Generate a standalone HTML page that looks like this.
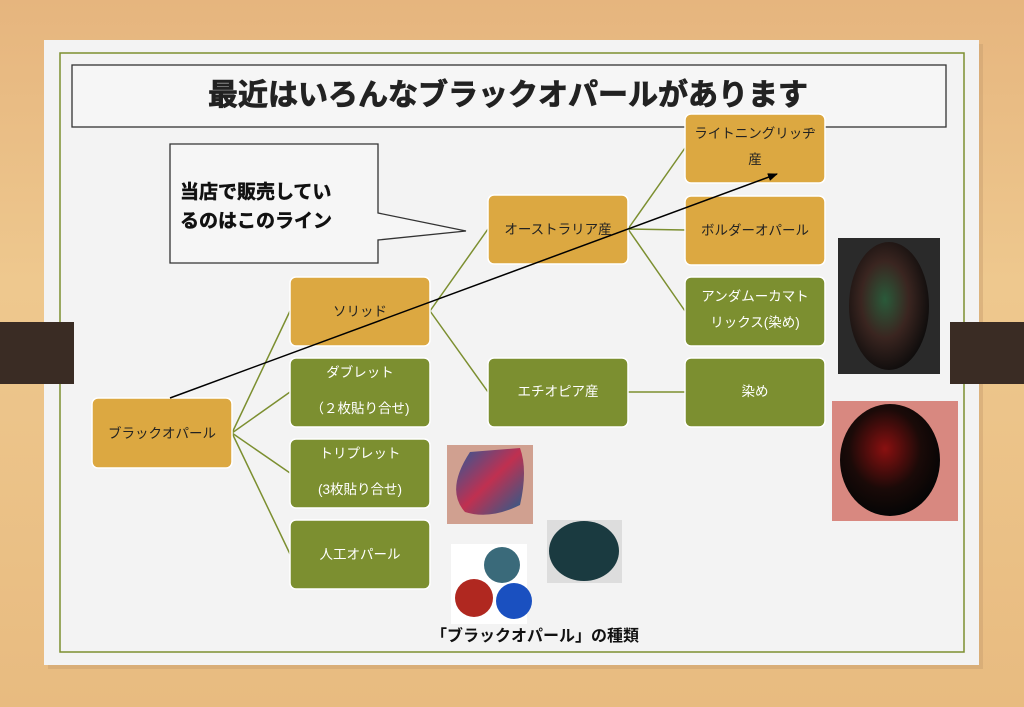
<!DOCTYPE html>
<html><head><meta charset="utf-8"><style>
html,body{margin:0;padding:0;width:1024px;height:707px;overflow:hidden}
body{background:linear-gradient(180deg,#e6b57e 0%,#eec88e 40%,#e8bb80 100%);font-family:"Liberation Sans","Noto Sans CJK JP",sans-serif}
</style></head><body>
<svg width="1024" height="707" viewBox="0 0 1024 707" xmlns="http://www.w3.org/2000/svg" style="position:absolute;left:0;top:0;font-family:'Liberation Sans','Noto Sans CJK JP',sans-serif">
<defs>
<radialGradient id="o1" cx="45%" cy="45%" r="60%"><stop offset="0" stop-color="#2a5a3a"/><stop offset=".5" stop-color="#3a2520"/><stop offset="1" stop-color="#0a0a0a"/></radialGradient>
<radialGradient id="o2" cx="45%" cy="40%" r="60%"><stop offset="0" stop-color="#8a1010"/><stop offset=".6" stop-color="#1a0a08"/><stop offset="1" stop-color="#050505"/></radialGradient>
<linearGradient id="o3" x1="0" y1="0" x2="1" y2="1"><stop offset="0" stop-color="#2a5a9a"/><stop offset=".5" stop-color="#c03050"/><stop offset="1" stop-color="#206090"/></linearGradient>
<marker id="ar" markerWidth="10" markerHeight="8" refX="9" refY="4" orient="auto" markerUnits="userSpaceOnUse"><path d="M0,0 L10,4 L0,8 Z" fill="#000"/></marker>
</defs>
<rect x="48" y="44" width="935" height="625" fill="#c9a070" opacity=".5"/>
<rect x="44" y="40" width="935" height="625" fill="#f3f3f3"/>
<rect x="60" y="53" width="904" height="599" fill="none" stroke="#7c8f30" stroke-width="1.5"/>
<rect x="72" y="65" width="874" height="62" fill="#f6f6f6" stroke="#333" stroke-width="1.3"/>
<text x="508" y="105" text-anchor="middle" font-size="30" font-weight="bold" fill="#222" stroke="#222" stroke-width=".8">最近はいろんなブラックオパールがあります</text>
<rect x="0" y="322" width="74" height="62" fill="#3a2c24"/>
<rect x="950" y="322" width="74" height="62" fill="#3a2c24"/>
<g stroke="#7c8f30" stroke-width="1.5" fill="none">
<path d="M232,433 L290,311 M232,433 L290,392 M232,433 L290,473 M232,433 L290,554"/>
<path d="M430,311 L488,229 M430,311 L488,392"/>
<path d="M628,229 L685,148 M628,229 L685,230 M628,229 L685,311 M628,392 L685,392"/>
</g>
<path d="M170,144 H378 V213 L466,231 L378,240 V263 H170 Z" fill="#f6f6f6" stroke="#333" stroke-width="1.3"/>
<text x="180" y="198" font-size="19" font-weight="bold" fill="#111" stroke="#111" stroke-width=".5">当店で販売してい</text>
<text x="180" y="227" font-size="19" font-weight="bold" fill="#111" stroke="#111" stroke-width=".5">るのはこのライン</text>
<g stroke="#fff" stroke-width="1.5">
<rect x="92" y="398" width="140" height="70" rx="6" fill="#dca841"/>
<rect x="290" y="277" width="140" height="69" rx="6" fill="#dca841"/>
<rect x="290" y="358" width="140" height="69" rx="6" fill="#7c8f30"/>
<rect x="290" y="439" width="140" height="69" rx="6" fill="#7c8f30"/>
<rect x="290" y="520" width="140" height="69" rx="6" fill="#7c8f30"/>
<rect x="488" y="195" width="140" height="69" rx="6" fill="#dca841"/>
<rect x="488" y="358" width="140" height="69" rx="6" fill="#7c8f30"/>
<rect x="685" y="114" width="140" height="69" rx="6" fill="#dca841"/>
<rect x="685" y="196" width="140" height="69" rx="6" fill="#dca841"/>
<rect x="685" y="277" width="140" height="69" rx="6" fill="#7c8f30"/>
<rect x="685" y="358" width="140" height="69" rx="6" fill="#7c8f30"/>
</g>
<g font-size="13.5" text-anchor="middle">
<text x="162" y="438" fill="#222">ブラックオパール</text>
<text x="360" y="316" fill="#222">ソリッド</text>
<text x="360" y="377" fill="#fff">ダブレット</text>
<text x="360" y="413" fill="#fff">（２枚貼り合せ)</text>
<text x="360" y="458" fill="#fff">トリプレット</text>
<text x="360" y="494" fill="#fff">(3枚貼り合せ)</text>
<text x="360" y="559" fill="#fff">人工オパール</text>
<text x="558" y="234" fill="#222">オーストラリア産</text>
<text x="558" y="396" fill="#fff">エチオピア産</text>
<text x="755" y="138" fill="#222">ライトニングリッヂ</text>
<text x="755" y="164" fill="#222">産</text>
<text x="755" y="235" fill="#222">ボルダーオパール</text>
<text x="755" y="301" fill="#fff">アンダムーカマト</text>
<text x="755" y="327" fill="#fff">リックス(染め)</text>
<text x="755" y="396" fill="#fff">染め</text>
</g>
<line x1="170" y1="398" x2="777" y2="174" stroke="#000" stroke-width="1.5" marker-end="url(#ar)"/>
<rect x="838" y="238" width="102" height="136" fill="#2a2a2a"/>
<ellipse cx="889" cy="306" rx="40" ry="64" fill="url(#o1)"/>
<rect x="832" y="401" width="126" height="120" fill="#d88880"/>
<ellipse cx="890" cy="460" rx="50" ry="56" fill="url(#o2)"/>
<rect x="447" y="445" width="86" height="79" fill="#d0a090"/>
<path d="M470,452 L520,448 Q528,470 520,505 Q490,520 465,512 Q445,490 470,452Z" fill="url(#o3)"/>
<rect x="451" y="544" width="76" height="80" fill="#fff"/>
<circle cx="502" cy="565" r="18" fill="#3a6a7a"/>
<circle cx="474" cy="598" r="19" fill="#b02820"/>
<circle cx="514" cy="601" r="18" fill="#1a50c0"/>
<rect x="547" y="520" width="75" height="63" fill="#ddd"/>
<ellipse cx="584" cy="551" rx="35" ry="30" fill="#1a3a40"/>
<text x="535" y="641" text-anchor="middle" font-size="16" font-weight="bold" fill="#111">「ブラックオパール」の種類</text>
</svg>
</body></html>
